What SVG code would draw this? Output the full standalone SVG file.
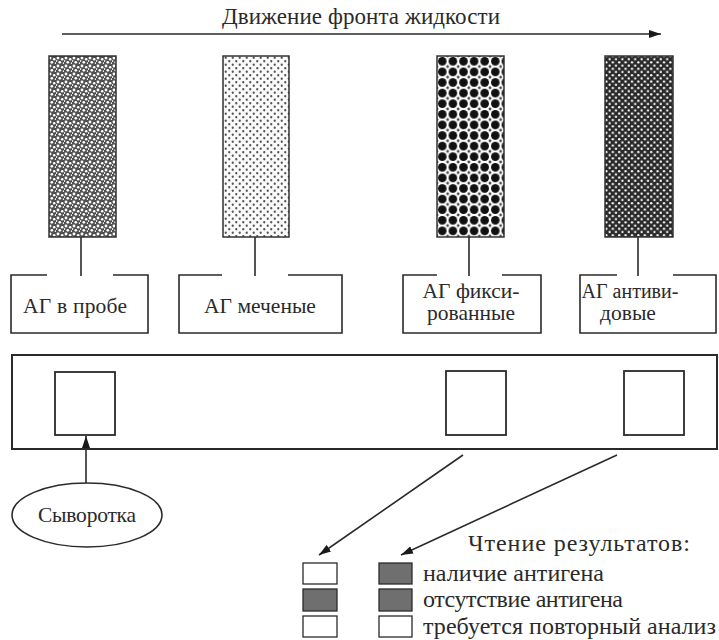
<svg xmlns="http://www.w3.org/2000/svg" width="719" height="640" viewBox="0 0 719 640" font-family="'Liberation Serif', 'DejaVu Serif', 'Times New Roman', serif">
<style>
text{font-family:'Liberation Serif','DejaVu Serif','Times New Roman',serif;fill:#2a2a2a}
.t20{font-size:20px}
.t21{font-size:21.5px}
.t23{font-size:23px}
.t24{font-size:24px}
.box{fill:none;stroke:#2a2a2a;stroke-width:1.6}
.ln{fill:none;stroke:#2a2a2a;stroke-width:1.6}
.sq{fill:#fff;stroke:#2a2a2a;stroke-width:1.8}
.lg{stroke:#2a2a2a;stroke-width:1.3}
.gray{fill:#6f6f6f}
.white{fill:#fff}
</style>
<defs>
<marker id="ah" viewBox="0 0 12 8" refX="12" refY="4" markerWidth="12" markerHeight="8" markerUnits="userSpaceOnUse" orient="auto">
<path d="M0,0 L12,4 L0,8 Z" fill="#1a1a1a"/>
</marker>
<pattern id="p1" width="8" height="8" patternUnits="userSpaceOnUse">
<rect width="8" height="8" fill="#505050"/>
<circle cx="2" cy="2" r="1.45" fill="#fff"/>
<circle cx="6.2" cy="3.2" r="1.25" fill="#fff"/>
<circle cx="3.8" cy="6.3" r="1.35" fill="#fff"/>
<circle cx="7.6" cy="7.2" r="0.9" fill="#eee"/>
<circle cx="0.5" cy="5" r="0.9" fill="#eee"/>
</pattern>
<pattern id="p2" width="7" height="7" patternUnits="userSpaceOnUse">
<rect width="7" height="7" fill="#fafafa"/>
<circle cx="1.75" cy="1.75" r="1.15" fill="#555"/>
<circle cx="5.25" cy="5.25" r="1.15" fill="#555"/>
</pattern>
<pattern id="p3" x="437" y="56" width="10.6" height="10.6" patternUnits="userSpaceOnUse">
<rect width="10.6" height="10.6" fill="#fff"/>
<circle cx="5.3" cy="5.3" r="4.3" fill="#111"/>
<circle cx="0" cy="0" r="1.4" fill="#444"/>
<circle cx="10.6" cy="0" r="1.4" fill="#444"/>
<circle cx="0" cy="10.6" r="1.4" fill="#444"/>
<circle cx="10.6" cy="10.6" r="1.4" fill="#444"/>
</pattern>
<pattern id="p4" width="6.4" height="6.4" patternUnits="userSpaceOnUse">
<rect width="6.4" height="6.4" fill="#2a2a2a"/>
<circle cx="1.6" cy="1.6" r="1.15" fill="#fff"/>
<circle cx="4.8" cy="4.8" r="1.15" fill="#fff"/>
</pattern>
</defs>
<rect width="719" height="640" fill="#fff"/>

<g id="title">
<text class="t23" x="361" y="24" text-anchor="middle" textLength="278">Движение фронта жидкости</text>
</g>

<g id="zone1"><rect x="49" y="56" width="67" height="181" fill="url(#p1)" stroke="#333" stroke-width="1.5"/></g>
<g id="zone2"><rect x="223" y="56" width="66" height="181" fill="url(#p2)" stroke="#333" stroke-width="1.5"/></g>
<g id="zone3"><rect x="437" y="56" width="67" height="181" fill="url(#p3)" stroke="#333" stroke-width="1.5"/></g>
<g id="zone4"><rect x="605" y="56" width="68" height="181" fill="url(#p4)" stroke="#333" stroke-width="1.5"/></g>

<g id="label1">
<path class="box" d="M47,275 H11 V333 H148 V275 H113"/>
<text class="t21" x="75" y="313" text-anchor="middle" textLength="104">АГ в пробе</text>
</g>
<g id="label2">
<path class="box" d="M222,275 H179 V333 H342 V275 H288"/>
<text class="t21" x="260" y="313" text-anchor="middle">АГ меченые</text>
</g>
<g id="label3">
<path class="box" d="M437,275 H403 V333 H541 V275 H502"/>
<text class="t21" x="471" y="298" text-anchor="middle">АГ фикси-</text>
<text class="t21" x="471" y="320" text-anchor="middle">рованные</text>
</g>
<g id="label4">
<path class="box" d="M617,275 H580 V333 H716 V275 H673"/>
<text class="t20" x="630" y="298" text-anchor="middle">АГ антиви-</text>
<text class="t21" x="628" y="320" text-anchor="middle">довые</text>
</g>

<g id="strip">
<rect x="12" y="355" width="705" height="94" fill="none" stroke="#2a2a2a" stroke-width="2"/>
</g>
<g id="well1"><rect class="sq" x="55" y="372" width="60" height="63"/></g>
<g id="well2"><rect class="sq" x="446" y="371" width="60" height="64"/></g>
<g id="well3"><rect class="sq" x="624" y="371" width="60" height="64"/></g>

<g id="serum">
<ellipse cx="87" cy="515" rx="75" ry="32" fill="#fff" stroke="#2a2a2a" stroke-width="1.6"/>
<text class="t21" x="87" y="522" text-anchor="middle" textLength="98">Сыворотка</text>
</g>

<g id="legend">
<text class="t24" x="468" y="551" textLength="222">Чтение результатов:</text>
<rect class="lg white" x="303" y="563" width="34" height="21"/>
<rect class="lg gray" x="303" y="589" width="34" height="22"/>
<rect class="lg white" x="303" y="616" width="34" height="21"/>
<rect class="lg gray" x="379" y="563" width="33" height="21"/>
<rect class="lg gray" x="379" y="589" width="33" height="22"/>
<rect class="lg white" x="379" y="616" width="33" height="21"/>
<text class="t24" x="423" y="581" textLength="181">наличие антигена</text>
<text class="t24" x="423" y="607" textLength="200">отсутствие антигена</text>
<text class="t24" x="423" y="634" textLength="293">требуется повторный анализ</text>
</g>

<g id="connectors">
<line class="ln" x1="62" y1="34" x2="661" y2="34" marker-end="url(#ah)"/>
<line class="ln" x1="81" y1="237" x2="81" y2="276"/>
<line class="ln" x1="255" y1="237" x2="255" y2="276"/>
<line class="ln" x1="469" y1="237" x2="469" y2="276"/>
<line class="ln" x1="638" y1="237" x2="638" y2="276"/>
<line class="ln" x1="86" y1="483" x2="86" y2="436" marker-end="url(#ah)"/>
<line class="ln" x1="463" y1="455" x2="319" y2="555" marker-end="url(#ah)"/>
<line class="ln" x1="617" y1="455" x2="401" y2="555" marker-end="url(#ah)"/>
</g>
</svg>
